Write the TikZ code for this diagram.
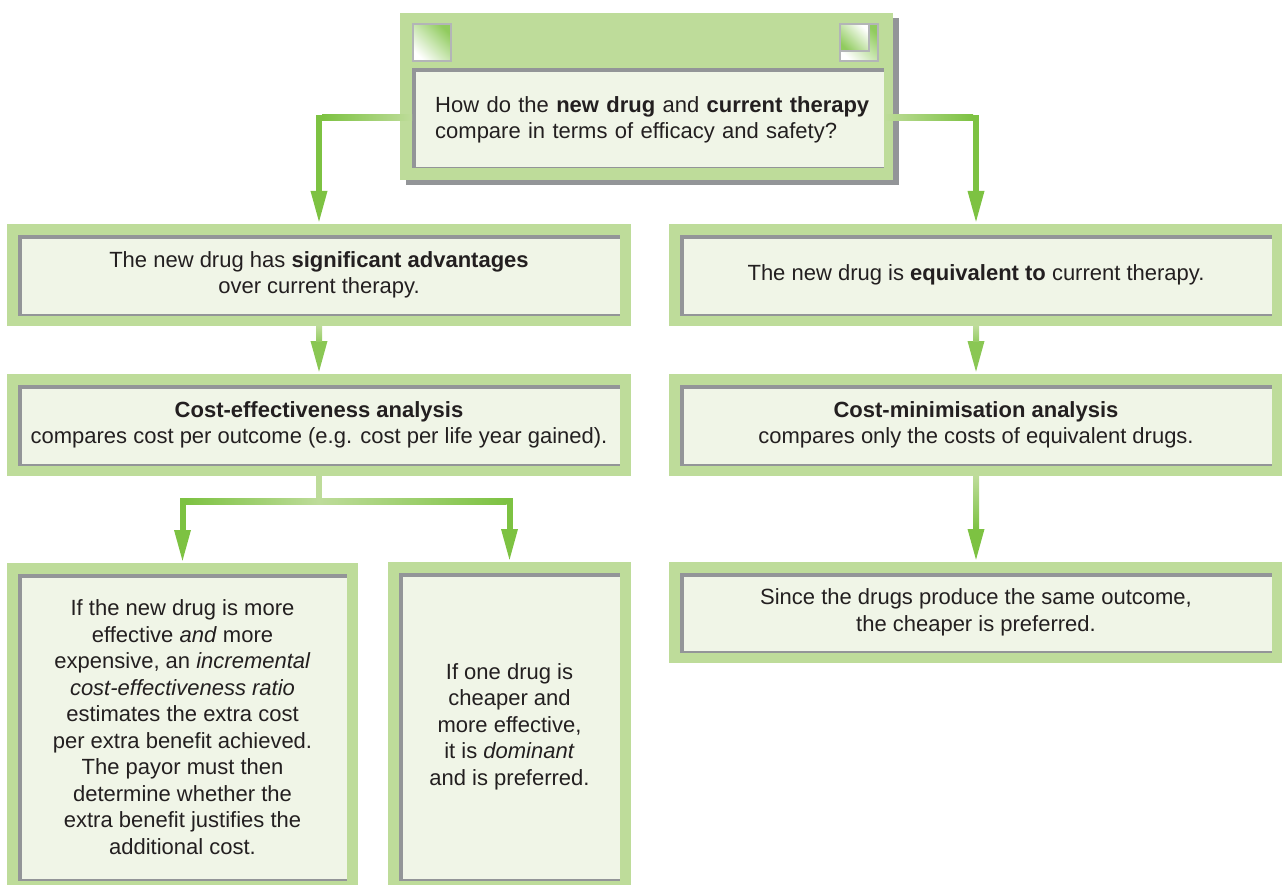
\documentclass[tikz,border=0pt]{standalone}
\usepackage{fontspec}
\setmainfont{Liberation Sans}
\usetikzlibrary{arrows.meta,calc,backgrounds}
\definecolor{framegreen}{HTML}{BEDC9A}
\definecolor{arrowgreen}{HTML}{7DC242}
\definecolor{panelfill}{HTML}{F0F5E7}
\definecolor{insetgray}{HTML}{939598}
\definecolor{textdark}{HTML}{231F20}

\begin{document}
\begin{tikzpicture}[x=1pt, y=-1pt,
  every node/.style={font=\fontsize{22}{26.5}\selectfont, text=textdark},
  inset/.style={path picture={
      \fill[insetgray] (path picture bounding box.north west) rectangle ([xshift=4pt]path picture bounding box.south west);
      \fill[insetgray] (path picture bounding box.north west) rectangle ([yshift=-4pt]path picture bounding box.north east);
      \draw[insetgray, line width=1.2pt] (path picture bounding box.south west) -- (path picture bounding box.south east);}},
  panel/.style={inset, fill=panelfill, inner sep=0pt, align=center, outer sep=11pt,
      preaction={draw=framegreen, line width=22pt}},
  toppanel/.style={inset, fill=panelfill, inner sep=0pt, outer sep=0pt},
  cornersq/.style={draw=insetgray!70, line width=1.5pt, inner sep=0pt, minimum width=38pt, minimum height=37pt,
      left color=white, right color=arrowgreen!85, shading angle=135},
  conn/.style={draw=arrowgreen, line width=6pt, -{Triangle[width=15pt,length=33pt]}},
  shortconn/.style={conn, draw=arrowgreen!80!framegreen}
]
  \useasboundingbox (0,0) rectangle (1282,885);

  \node[toppanel, minimum width=472pt, minimum height=100pt] (q) at (648,118) {};
  \node[text width=449pt, align=left, anchor=west, inner sep=0pt] (qlabel) at ([xshift=23pt, yshift=-2pt]q.west)
    {How do the \textbf{new drug} and \textbf{current therapy}\\compare in terms of efficacy and safety?};
  \begin{scope}[on background layer]
    \fill[insetgray] ($(q.north west)+(-6,-50)$) rectangle ($(q.south east)+(15,17)$);
    \fill[framegreen] ($(q.north west)+(-12,-55)$) rectangle ($(q.south east)+(9,12)$);
  \end{scope}
  \node[cornersq] (sq1) at (432,42.5) {};
  \node[cornersq] (sq2) at (859,42.5) {};
  \node[cornersq, left color=arrowgreen!85, right color=white, shading angle=135, minimum width=29pt, minimum height=27pt, anchor=north west] (sq2in) at (sq2.north west) {};

  \node[panel, minimum width=602pt, minimum height=80pt] (adv) at (319,275)
    {The new drug has \textbf{significant advantages}\\over current therapy.};
  \node[panel, minimum width=592pt, minimum height=80pt] (equiv) at (976,275)
    {The new drug is \textbf{equivalent to} current therapy.};
  \node[panel, minimum width=602pt, minimum height=80pt] (cea) at (319,425)
    {\textbf{Cost-effectiveness analysis}\\compares cost per outcome (e.g. cost per life year gained).};
  \node[panel, minimum width=592pt, minimum height=80pt] (cma) at (976,425)
    {\textbf{Cost-minimisation analysis}\\compares only the costs of equivalent drugs.};
  \node[panel, minimum width=329pt, minimum height=306pt] (icer) at (182.5,727)
    {If the new drug is more\\effective \textit{and} more\\expensive, an \textit{incremental}\\\textit{cost-effectiveness ratio}\\estimates the extra cost\\per extra benefit achieved.\\The payor must then\\determine whether the\\extra benefit justifies the\\additional cost.};
  \node[panel, minimum width=221pt, minimum height=307pt] (dom) at (509.5,726.5)
    {If one drug is\\cheaper and\\more effective,\\it is \textit{dominant}\\and is preferred.};
  \node[panel, minimum width=592pt, minimum height=79pt] (cheap) at (976,612.5)
    {Since the drugs produce the same outcome,\\the cheaper is preferred.};

  \coordinate (split) at ($(cea.south)+(0,25)$);

  \draw[conn] (q.west) -| (adv.north);
  \draw[conn] (q.east) -| (equiv.north);
  \draw[shortconn] (adv.south) -- (cea.north);
  \draw[shortconn] (equiv.south) -- (cma.north);
  \draw[conn] (cea.south) -- (split) -| (icer.north);
  \draw[conn] (cea.south) -- (split) -| (dom.north);
  \draw[conn] (cma.south) -- (cheap.north);

  \shade[left color=arrowgreen, right color=framegreen] ($(adv.north |- q.west)+(3,-3)$) rectangle ($(q.west)+(0,3)$);
  \shade[left color=framegreen, right color=arrowgreen] ($(q.east)+(0,-3)$) rectangle ($(equiv.north |- q.east)+(-3,3)$);
  \shade[top color=framegreen, bottom color=arrowgreen!60!framegreen] ($(adv.south)+(-3,0)$) rectangle ($(cea.north)+(3,-33)$);
  \shade[top color=framegreen, bottom color=arrowgreen!60!framegreen] ($(equiv.south)+(-3,0)$) rectangle ($(cma.north)+(3,-33)$);
  \shade[left color=arrowgreen, right color=framegreen] ($(icer.north |- split)+(3,-3)$) rectangle ($(split)+(0,3)$);
  \shade[left color=framegreen, right color=arrowgreen] ($(split)+(0,-3)$) rectangle ($(dom.north |- split)+(-3,3)$);
  \fill[framegreen] ($(cea.south)+(-3,0)$) rectangle ($(split)+(3,-3)$);
  \shade[top color=framegreen, bottom color=arrowgreen] ($(cma.south)+(-3,0)$) rectangle ($(cheap.north)+(3,-33)$);
\end{tikzpicture}
\end{document}
